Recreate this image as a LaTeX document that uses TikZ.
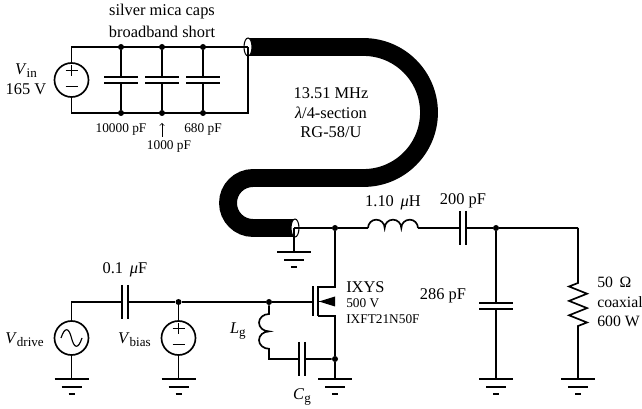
\documentclass[tikz,border=0pt]{standalone}
\usepackage{fontspec}
\setmainfont{Liberation Serif}
\usetikzlibrary{calc}
\tikzset{
  x=0.75pt,y=-0.75pt,
  wire/.style={line width=1.25pt},
  dotn/.style={circle,fill=black,inner sep=0pt,minimum size=4.5pt},
  src/.style={circle,draw,line width=1.25pt,minimum size=25.5pt,inner sep=0pt},
  lab/.style={inner sep=0pt,align=center,font=\fontsize{12.3}{14.7}\selectfont},
  rlab/.style={inner sep=0pt,anchor=west,font=\fontsize{11.8}{14}\selectfont},
  slab/.style={inner sep=0pt,align=center,font=\fontsize{10}{12}\selectfont},
  pt/.style={inner sep=0pt,minimum size=0pt},
  capw/.style={line width=1.35pt},
  coax/.style={line width=13.4pt,line cap=butt}
}
\newcommand{\sbs}[1]{\raisebox{-0.4ex}{\fontsize{9.8}{10}\selectfont #1}}
\newcommand{\gnd}[1]{%
  \draw[wire] ($(#1)+(-17,0)$) -- ($(#1)+(17,0)$);
  \draw[wire] ($(#1)+(-10,8)$) -- ($(#1)+(10,8)$);
  \draw[wire] ($(#1)+(-3,15)$) -- ($(#1)+(3,15)$);}
\newcommand{\capv}[1]{%
  \draw[capw] ($(#1)+(-17,-3)$) -- ($(#1)+(17,-3)$);
  \draw[capw] ($(#1)+(-17,3)$) -- ($(#1)+(17,3)$);}
\newcommand{\caph}[1]{%
  \draw[capw] ($(#1)+(-3,-17)$) -- ($(#1)+(-3,17)$);
  \draw[capw] ($(#1)+(3,-17)$) -- ($(#1)+(3,17)$);}
\newcommand{\plusminus}[1]{%
  \draw[line width=0.8pt] ($(#1)+(-6,-9.5)$) -- ($(#1)+(6,-9.5)$);
  \draw[line width=0.8pt] ($(#1)+(0,-15)$) -- ($(#1)+(0,-4)$);
  \draw[line width=0.8pt] ($(#1)+(-6,6.5)$) -- ($(#1)+(6,6.5)$);}
\begin{document}
\begin{tikzpicture}
\useasboundingbox (0,0) rectangle (642,409);
% coax
\draw[coax] (248,47) -- (363.5,47) arc[start angle=-90,end angle=90,radius=65.5] -- (253,178) arc[start angle=-90,end angle=-270,radius=25] -- (294,228);
% input section
\node[src] (vin) at (71.5,80) {};
\plusminus{vin}
\node[pt] (tl) at (71.5,47) {};
\node[pt] (bl) at (71.5,113) {};
\node[dotn] (t1) at (121,47) {};
\node[dotn] (t2) at (162,47) {};
\node[dotn] (t3) at (203,47) {};
\node[dotn] (b1) at (121,113) {};
\node[dotn] (b2) at (162,113) {};
\node[dotn] (b3) at (203,113) {};
\node[pt] (br) at (248,113) {};
\node[pt] (tr) at (248,47) {};
\draw[line width=0.8pt,fill=white] (248,47) ellipse[x radius=4,y radius=9];
\draw[wire] (vin) -- (tl.center) -- (tr.center);
\draw[wire] (vin) -- (bl.center) -- (br.center) -- (tr.center);
\draw[wire] (t1) -- (b1); \draw[wire] (t2) -- (b2); \draw[wire] (t3) -- (b3);
\foreach \X in {121,162,203}{\fill[white] (\X-17,77) rectangle (\X+17,83); \capv{\X,80}}
\node[lab] (n1) at (162,12) {silver mica caps};
\node[lab] (n2) at (162,32) {broadband short};
\node[lab] (n3) at (26,79) {\textit{V}\sbs{in}\\165 V};
\node[slab] (n4) at (121,129) {10000 pF};
\node[slab] (n5) at (169,146) {1000 pF};
\node[slab] (n6) at (203,129) {680 pF};
\node[pt] (ah) at (162,123) {};
\node[pt] (at) at (162,137) {};
\draw[line width=0.5pt,->,>=to] (at.center) -- (ah.center);
\node[lab] (n7) at (331,113) {13.51 MHz\\\textit{λ}/4-section\\RG-58/U};
% output
\draw[line width=0.8pt,fill=white] (295,228) ellipse[x radius=4,y radius=9];
\node[pt] (cg) at (294,228) {};
\node[pt] (g1) at (294,252) {};
\draw[wire] (cg.center) -- (g1.center);
\gnd{g1}
\node[dotn] (d) at (335,228) {};
\node[pt] (ls) at (368,228) {};
\node[pt] (le) at (418,228) {};
\node[pt] (ca) at (463,228) {};
\node[dotn] (o) at (496,228) {};
\node[pt] (rt) at (578,228) {};
\draw[wire] (cg.center) -- (d) -- (ls.center);
\draw[wire] (ls.center) arc[start angle=-180,end angle=0,radius=8.33] arc[start angle=-180,end angle=0,radius=8.33] arc[start angle=-180,end angle=0,radius=8.33];
\draw[wire] (le.center) -- (o) -- (rt.center);
\fill[white] (460,215) rectangle (466,240);
\caph{463,228}
\node[lab] (n8) at (393,203) {1.10 \,\textit{μ}H};
\node[lab] (n9) at (463,201) {200 pF};
\node[pt] (g2) at (496,379) {};
\draw[wire] (o) -- (g2.center);
\fill[white] (479,303) rectangle (513,309);
\capv{496,306}
\gnd{g2}
\node[lab] (n10) at (443,296) {286 pF};
\node[pt] (g3) at (578,379) {};
\draw[wire] (rt.center) -- (578,283) -- ++(-9,3.5) -- ++(18,7.2) -- ++(-18,7.2) -- ++(18,7.2) -- ++(-18,7.2) -- ++(18,7.2) -- ++(-9,3.5) -- (g3.center);
\gnd{g3}
\node[rlab] (n11) at (597,282) {50 \,Ω};
\node[rlab] (n12) at (597,302) {coaxial};
\node[rlab] (n13) at (597,321) {600 W};
% gate section
\node[pt] (dr1) at (335,287) {};
\node[pt] (dr2) at (335,316) {};
\node[dotn] (sb) at (335,359) {};
\node[pt] (g4) at (335,379) {};
\draw[wire] (d) -- (dr1.center) -- (318,287);
\draw[wire] (318,316) -- (dr2.center) -- (sb);
\draw[wire] (sb) -- (g4.center);
\gnd{g4}
\draw[line width=1.3pt] (318,286.5) -- (318,316.5);
\draw[line width=1.3pt] (313,286.5) -- (313,316.5);
\draw[wire] (318,301.5) -- (335,301.5);
\fill (319,301.5) -- (335,296.5) -- (335,306.5) -- cycle;
\node[src] (vd) at (71.5,338) {};
\draw[line width=0.85pt] (61,338) .. controls (65,326) and (69,328) .. (71.5,338) .. controls (74,348) and (78,350) .. (82,338);
\node[src] (vb) at (178.5,338) {};
\plusminus{vb}
\node[pt] (w) at (71.5,302) {};
\node[dotn] (j1) at (178.5,302) {};
\node[dotn] (j2) at (269,302) {};
\draw[wire] (vd) -- (w.center) -- (j1) -- (j2) -- (313,302);
\draw[wire] (j1) -- (vb);
\fill[white] (122,290) rectangle (128,314);
\caph{125,302}
\node[pt] (g5) at (71.5,379) {};
\node[pt] (g6) at (178.5,379) {};
\draw[wire] (vd) -- (g5.center); \draw[wire] (vb) -- (g6.center);
\gnd{g5} \gnd{g6}
\node[lab] (n14) at (125,270) {0.1 \,\textit{μ}F};
\node[lab,anchor=east] (n15) at (44,340) {\textit{V}\sbs{drive}};
\node[lab,anchor=east] (n16) at (151,340) {\textit{V}\sbs{bias}};
% Lg Cg
\draw[wire] (j2) -- (269,314) arc[start angle=-90,end angle=-270,x radius=10,y radius=8.7] arc[start angle=-90,end angle=-270,x radius=10,y radius=8.7] -- (269,359) -- (sb);
\fill[white] (299,350) rectangle (305,368);
\caph{302,359}
\node[lab,anchor=east] (n17) at (246,331) {\textit{L}\sbs{g}};
\node[lab] (n18) at (302,397) {\textit{C}\sbs{g}};
\node[lab,anchor=west] (n19) at (346,287) {IXYS};
\node[slab,anchor=west] (n20) at (346,303) {500 V};
\node[slab,anchor=west] (n21) at (346,319) {IXFT21N50F};
\end{tikzpicture}
\end{document}
